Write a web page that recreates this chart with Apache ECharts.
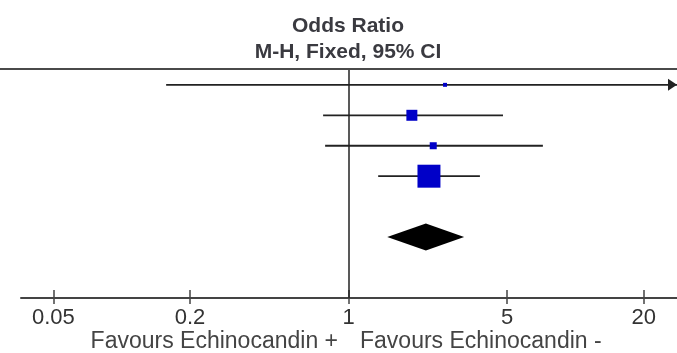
<!DOCTYPE html>
<html>
<head>
<meta charset="utf-8">
<script src="https://cdn.jsdelivr.net/npm/echarts@6/dist/echarts.min.js"></script>
<style>
  html, body { margin: 0; padding: 0; background: #fff; }
  #chart { width: 677px; height: 353px; }
</style>
</head>
<body>
<div id="chart"></div>
<script>
// studies, top to bottom (row index on the y axis)
var studyRows = [0, 1, 2, 3];
var oddsRatio = [2.66, 1.90, 2.36, 2.26];
var ciLow = [0.157, 0.772, 0.788, 1.35];
var ciHigh = [45, 4.79, 7.18, 3.79];   // first one runs off the scale
var weights = [2.2, 16.9, 6.9, 74.0];  // % weight -> square size

// pooled estimate (diamond)
var totalRow = 5;
var totalOR = 2.19;
var totalLow = 1.48;
var totalHigh = 3.23;

var tickValues = [0.05, 0.2, 1, 5, 20];
var axisMin = 0.036;
var axisMax = 28;

var log = Math.log10;

var studyData = studyRows.map(function (r, i) {
    return [r, log(oddsRatio[i]), log(ciLow[i]), log(ciHigh[i]), weights[i]];
});
var tickLogs = tickValues.map(log);

function tickLabel(v) {
    for (var i = 0; i < tickLogs.length; i++) {
        if (Math.abs(tickLogs[i] - v) < 1e-6) return String(tickValues[i]);
    }
    return '';
}

function renderStudy(params, api) {
    var y = api.value(0);
    var p = api.coord([api.value(1), y]);
    var lo = api.coord([api.value(2), y]);
    var hi = api.coord([api.value(3), y]);
    var cs = params.coordSys;
    var left = cs.x, right = cs.x + cs.width;
    var x1 = Math.max(lo[0], left);
    var x2 = Math.min(hi[0], right);
    var size = Math.sqrt(api.value(4)) * 2.67;
    var kids = [
        { type: 'line', shape: { x1: x1, y1: p[1], x2: x2, y2: p[1] },
          style: { stroke: '#222', lineWidth: 1.8 } },
        { type: 'rect', shape: { x: p[0] - size / 2, y: p[1] - size / 2, width: size, height: size },
          style: { fill: '#0000c8' } }
    ];
    if (hi[0] > right) {
        kids.push({ type: 'polygon',
            shape: { points: [[right, p[1]], [right - 9, p[1] - 6], [right - 9, p[1] + 6]] },
            style: { fill: '#222' } });
    }
    if (lo[0] < left) {
        kids.push({ type: 'polygon',
            shape: { points: [[left, p[1]], [left + 9, p[1] - 6], [left + 9, p[1] + 6]] },
            style: { fill: '#222' } });
    }
    return { type: 'group', children: kids };
}

function renderDiamond(params, api) {
    var y = api.value(0);
    var c = api.coord([api.value(1), y]);
    var lo = api.coord([api.value(2), y]);
    var hi = api.coord([api.value(3), y]);
    var h = 13.5;
    return {
        type: 'polygon',
        shape: { points: [[lo[0], c[1]], [c[0], c[1] - h], [hi[0], c[1]], [c[0], c[1] + h]] },
        style: { fill: '#000' }
    };
}

var chart = echarts.init(document.getElementById('chart'));

var gridBox = { left: 21, right: 0, top: 69, bottom: 55 };

var option = {
    animation: false,
    textStyle: { fontFamily: 'Liberation Sans, Arial, sans-serif' },
    title: [
        {
            text: 'Odds Ratio', left: 348, top: 16, padding: 0, textAlign: 'center',
            textStyle: { fontSize: 21, fontWeight: 'bold', color: '#3a3a40', fontFamily: 'Liberation Sans' }
        },
        {
            text: 'M-H, Fixed, 95% CI', left: 348, top: 42, padding: 0, textAlign: 'center',
            textStyle: { fontSize: 21, fontWeight: 'bold', color: '#3a3a40', fontFamily: 'Liberation Sans' }
        },
        {
            text: 'Favours Echinocandin +', right: 339, top: 330, padding: 0,
            textStyle: { fontSize: 23, fontWeight: 'normal', color: '#444', fontFamily: 'Liberation Sans' }
        },
        {
            text: 'Favours Echinocandin -', left: 360, top: 330, padding: 0,
            textStyle: { fontSize: 23, fontWeight: 'normal', color: '#444', fontFamily: 'Liberation Sans' }
        }
    ],
    graphic: [
        { type: 'line', shape: { x1: 0, y1: 69, x2: 677, y2: 69 },
          style: { stroke: '#4a4a4a', lineWidth: 2 }, z: 10 }
    ],
    grid: [
        Object.assign({}, gridBox),
        Object.assign({}, gridBox)   // second copy only carries the downward tick halves
    ],
    xAxis: [
        {
            type: 'value', gridIndex: 0, min: log(axisMin), max: log(axisMax), position: 'bottom',
            splitLine: { show: false },
            axisLine: { show: true, onZero: false, lineStyle: { color: '#444', width: 2 } },
            axisTick: { show: true, inside: true, length: 8, customValues: tickLogs, lineStyle: { color: '#444', width: 1.5 } },
            axisLabel: {
                customValues: tickLogs, formatter: tickLabel, margin: 9,
                fontSize: 22, color: '#333', fontFamily: 'Liberation Sans'
            }
        },
        {
            type: 'value', gridIndex: 1, min: log(axisMin), max: log(axisMax), position: 'bottom',
            splitLine: { show: false },
            axisLine: { show: false, onZero: false },
            axisTick: { show: true, length: 6, customValues: tickLogs, lineStyle: { color: '#444', width: 1.5 } },
            axisLabel: { show: false, customValues: tickLogs }
        }
    ],
    yAxis: [
        { type: 'value', gridIndex: 0, inverse: true, min: -0.52, max: 7, show: false },
        { type: 'value', gridIndex: 1, min: 0, max: 1, show: false }
    ],
    series: [
        {
            type: 'custom', name: 'studies', renderItem: renderStudy,
            encode: { x: [1, 2, 3], y: 0 },
            data: studyData, clip: false, z: 3
        },
        {
            type: 'custom', name: 'total', renderItem: renderDiamond,
            encode: { x: [1, 2, 3], y: 0 },
            data: [[totalRow, log(totalOR), log(totalLow), log(totalHigh)]],
            z: 3,
            markLine: {
                silent: true, symbol: 'none', label: { show: false },
                lineStyle: { color: '#222', width: 1.5, type: 'solid' },
                data: [{ xAxis: 0 }]
            }
        }
    ]
};

chart.setOption(option);
</script>
</body>
</html>
